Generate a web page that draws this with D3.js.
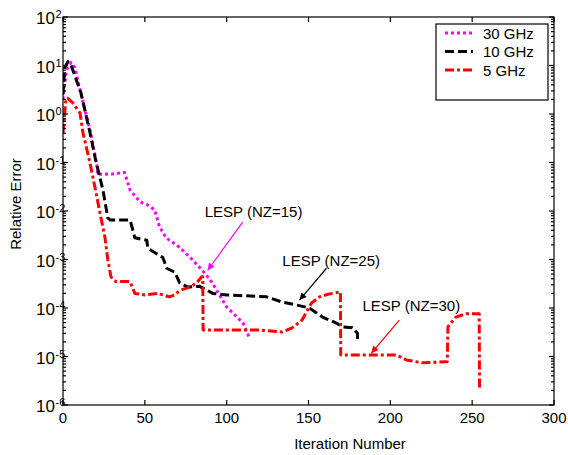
<!DOCTYPE html>
<html>
<head>
<meta charset="utf-8">
<script src="https://cdn.jsdelivr.net/npm/d3@7"></script>
<style>
  body { margin: 0; background: #fff; }
  text { font-family: "Liberation Sans", Arial, sans-serif; fill: #000; }
</style>
</head>
<body>
<div id="chart"></div>
<script>
// ---- data (iteration, relative error) ----
const ghz30 = [
    [0, 2], [2, 8], [5, 11.5], [7.3, 9], [10.4, 3.1], [16.5, 0.47], [20.7, 0.089], [21.3, 0.055],
    [22.6, 0.057], [30, 0.058], [37.6, 0.062], [41, 0.027], [47, 0.0155], [52, 0.0132], [56, 0.0105],
    [59, 0.0047], [63, 0.0028], [71, 0.0018], [79, 0.001], [85, 0.0006], [90, 0.00038], [94, 0.00023],
    [100, 0.000105], [110, 0.000049], [114, 0.000024]
];
const ghz10 = [
    [0, 2.5], [1, 9], [3, 12], [5, 10], [11, 2.7], [16.5, 0.41], [20, 0.11], [24.4, 0.027],
    [27.4, 0.0072], [29, 0.0065], [41, 0.0065], [43.9, 0.0028], [51.2, 0.0025], [51.8, 0.0017],
    [61, 0.0011], [63.4, 0.00066], [68.3, 0.00055], [71.3, 0.00033], [76.2, 0.00027], [83.5, 0.00028],
    [91.5, 0.0002], [100, 0.000186], [124.4, 0.00017], [134.1, 0.000132], [142.7, 0.000115],
    [150.6, 0.0001], [154.9, 0.000079], [158.5, 0.000065], [167, 0.000049], [170.7, 0.000041],
    [176.8, 0.000039], [179.9, 0.00003], [180, 0.000022]
];
const ghz5 = [
    [0, 0.4], [1.8, 2.1], [3, 2.1], [6, 1.7], [10.4, 1.05], [12.2, 0.41], [16.5, 0.098], [19.5, 0.031],
    [22.6, 0.0091], [25.6, 0.0029], [27.4, 0.00098], [29.3, 0.00044], [32.3, 0.00035], [40.9, 0.00035],
    [43.9, 0.0002], [50, 0.000186], [58, 0.0002], [65, 0.00017], [68.3, 0.000186], [71.3, 0.00023],
    [77.4, 0.00027], [81.7, 0.00033], [84.8, 0.00044], [85.4, 0.00044], [85.6, 0.000035], [120, 0.000035],
    [134, 0.000032], [140, 0.000039], [146, 0.000056], [149.4, 0.000091], [151.8, 0.000126],
    [156.7, 0.00017], [162.8, 0.000195], [169.5, 0.000214], [169.7, 0.0000107], [203.7, 0.0000107],
    [209.8, 0.0000085], [219.5, 0.0000074], [234, 0.0000078], [234.8, 0.0000078], [235.2, 0.000041],
    [240, 0.000065], [246.3, 0.000076], [254.3, 0.000076], [254.5, 0.0000022]
];

const xTicks = [0, 50, 100, 150, 200, 250, 300];
const yExponents = [2, 1, 0, -1, -2, -3, -4, -5, -6];
const legendLabels = ["30 GHz", "10 GHz", "5 GHz"];

// annotations: text anchor + arrow start/end, all in data units
const notes = [
    {label: "LESP (NZ=15)", tx: 86.6, ty: 0.0076, x1: 109.8, y1: 0.0059, x2: 88.4, y2: 0.0006, color: "#ff00ff"},
    {label: "LESP (NZ=25)", tx: 134, ty: 0.00074, x1: 161, y1: 0.00066, x2: 144.5, y2: 0.000146, color: "#000000"},
    {label: "LESP (NZ=30)", tx: 183, ty: 0.0000871, x1: 205.5, y1: 0.000056, x2: 188.4, y2: 0.0000117, color: "#ff0000"}
];

// ---- layout ----
const W = 568, H = 455;
const margin = {left: 63, right: 554, top: 17, bottom: 405};

const svg = d3.select("#chart").append("svg")
    .attr("width", W).attr("height", H);

const x = d3.scaleLinear().domain([0, 300]).range([margin.left, margin.right]);
const y = d3.scaleLog().domain([1e-6, 1e2]).range([margin.bottom, margin.top]);

// series styles
const series = [
    {data: ghz30, color: "#ff00ff", dash: "3,3", label: legendLabels[0]},
    {data: ghz10, color: "#000000", dash: "9,4", label: legendLabels[1]},
    {data: ghz5, color: "#ff0000", dash: "9,3,3,3", label: legendLabels[2]}
];

const line = d3.line().x(d => x(d[0])).y(d => y(d[1]));

const plot = svg.append("g");
plot.append("clipPath").attr("id", "clip")
    .append("rect").attr("x", margin.left).attr("y", margin.top)
    .attr("width", margin.right - margin.left).attr("height", margin.bottom - margin.top);

series.forEach(s => {
    plot.append("path")
        .attr("d", line(s.data))
        .attr("clip-path", "url(#clip)")
        .attr("fill", "none")
        .attr("stroke", s.color)
        .attr("stroke-width", 3)
        .attr("stroke-dasharray", s.dash)
        .attr("stroke-linejoin", "round");
});

// ---- axes box and ticks ----
const axes = svg.append("g").attr("stroke", "#000").attr("stroke-width", 1.2);

axes.append("rect")
    .attr("x", margin.left).attr("y", margin.top)
    .attr("width", margin.right - margin.left).attr("height", margin.bottom - margin.top)
    .attr("fill", "none");

xTicks.forEach(t => {
    axes.append("line").attr("x1", x(t)).attr("x2", x(t)).attr("y1", margin.bottom).attr("y2", margin.bottom - 5);
    axes.append("line").attr("x1", x(t)).attr("x2", x(t)).attr("y1", margin.top).attr("y2", margin.top + 5);
});

y.ticks().forEach(v => {
    let major = Math.abs(Math.log10(v) - Math.round(Math.log10(v))) < 1e-9;
    let len = major ? 5 : 3;
    axes.append("line").attr("x1", margin.left).attr("x2", margin.left + len).attr("y1", y(v)).attr("y2", y(v));
    axes.append("line").attr("x1", margin.right).attr("x2", margin.right - len).attr("y1", y(v)).attr("y2", y(v));
});

// tick labels
svg.append("g").selectAll("text")
    .data(xTicks).enter().append("text")
    .attr("x", d => x(d)).attr("y", margin.bottom + 18)
    .attr("text-anchor", "middle")
    .attr("font-size", 15)
    .text(d => d);

const yl = svg.append("g");
yExponents.forEach(e => {
    let py = y(Math.pow(10, e));
    yl.append("text").attr("x", 55).attr("y", py + 7)
        .attr("text-anchor", "end").attr("font-size", 17).text("10");
    yl.append("text").attr("x", 55.5).attr("y", py + 1)
        .attr("text-anchor", "start").attr("font-size", 11).text(e);
});

// axis titles
svg.append("text")
    .attr("x", 350).attr("y", 449)
    .attr("text-anchor", "middle").attr("font-size", 15)
    .text("Iteration Number");

svg.append("text")
    .attr("transform", "translate(21,204) rotate(-90)")
    .attr("text-anchor", "middle").attr("font-size", 15)
    .text("Relative Error");

// ---- annotations ----
const defs = svg.append("defs");
notes.forEach((n, i) => {
    defs.append("marker")
        .attr("id", "arrow" + i)
        .attr("viewBox", "0 0 10 10")
        .attr("refX", 10).attr("refY", 5)
        .attr("markerWidth", 9).attr("markerHeight", 7)
        .attr("markerUnits", "userSpaceOnUse")
        .attr("orient", "auto")
        .append("path").attr("d", "M0,0 L10,5 L0,10 z").attr("fill", n.color);

    svg.append("line")
        .attr("x1", x(n.x1)).attr("y1", y(n.y1))
        .attr("x2", x(n.x2)).attr("y2", y(n.y2))
        .attr("stroke", n.color).attr("stroke-width", 1.2)
        .attr("marker-end", "url(#arrow" + i + ")");

    svg.append("text")
        .attr("x", x(n.tx)).attr("y", y(n.ty))
        .attr("font-size", 15)
        .text(n.label);
});

// ---- legend ----
const lg = svg.append("g");
lg.append("rect")
    .attr("x", 436).attr("y", 24).attr("width", 112).attr("height", 76)
    .attr("fill", "#fff").attr("stroke", "#000").attr("stroke-width", 1.2);

series.forEach((s, i) => {
    let ly = 33 + i * 18.5;
    lg.append("line")
        .attr("x1", 445).attr("x2", 473).attr("y1", ly).attr("y2", ly)
        .attr("stroke", s.color).attr("stroke-width", 3)
        .attr("stroke-dasharray", s.dash);
    lg.append("text")
        .attr("x", 483).attr("y", ly + 5.5)
        .attr("font-size", 15)
        .text(s.label);
});
</script>
</body>
</html>
